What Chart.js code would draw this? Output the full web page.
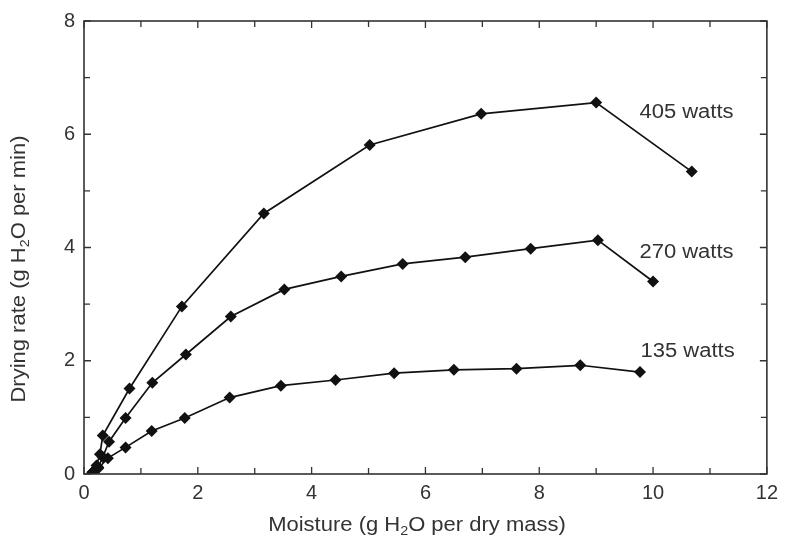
<!DOCTYPE html>
<html>
<head>
<meta charset="utf-8">
<script src="https://cdn.jsdelivr.net/npm/chart.js@4.4.1/dist/chart.umd.min.js"></script>
<style>
  html, body { margin: 0; padding: 0; background: #fff; }
  #wrap { width: 785px; height: 547px; }
</style>
</head>
<body>
<div id="wrap"><canvas id="c" width="785" height="547"></canvas></div>
<script>
// Moisture (g H2O per dry mass) vs drying rate (g H2O per min)
const moisture405 = [0.15, 0.22, 0.28, 0.33, 0.80, 1.72, 3.16, 5.02, 6.98, 9.00, 10.68];
const rate405     = [0.03, 0.15, 0.35, 0.68, 1.51, 2.96, 4.60, 5.81, 6.36, 6.56, 5.34];

const moisture270 = [0.15, 0.25, 0.33, 0.44, 0.73, 1.20, 1.79, 2.58, 3.52, 4.52, 5.60, 6.70, 7.85, 9.03, 10.00];
const rate270     = [0.03, 0.12, 0.30, 0.57, 0.99, 1.61, 2.11, 2.78, 3.26, 3.49, 3.71, 3.83, 3.98, 4.13, 3.40];

const moisture135 = [0.15, 0.25, 0.42, 0.73, 1.19, 1.77, 2.56, 3.46, 4.42, 5.45, 6.50, 7.60, 8.72, 9.77];
const rate135     = [0.03, 0.10, 0.28, 0.47, 0.76, 0.99, 1.35, 1.56, 1.66, 1.78, 1.84, 1.86, 1.92, 1.80];

const seriesLabels = ['405 watts', '270 watts', '135 watts'];
// where each series name sits, in data units
const labelX = [9.76, 9.76, 9.78];
const labelY = [6.38, 3.92, 2.17];

const xTicks = [0, 2, 4, 6, 8, 10, 12];
const yTicks = [0, 2, 4, 6, 8];

const pts = (xs, ys) => xs.map((x, i) => ({ x, y: ys[i] }));

const FONT = '"Liberation Sans", Arial, sans-serif';
const FS = 20;
const STRETCH = 1.1;   // labels are set slightly wide
const INK = '#111';
const AXIS = '#333';
const TEXT = '#333';

function lineSet(label, data) {
  return {
    label, data, showLine: true,
    borderColor: INK, backgroundColor: INK,
    borderWidth: 1.7,
    pointStyle: 'rectRot', pointRadius: 6, pointHoverRadius: 6,
    pointBorderWidth: 0,
    tension: 0, fill: false
  };
}

// frame with inward ticks on all four sides, plus axis titles and series names
const framePlugin = {
  id: 'frame',
  afterDatasetsDraw(chart) {
    const { ctx, chartArea: a, scales: { x, y } } = chart;
    ctx.save();
    ctx.strokeStyle = AXIS;
    ctx.lineWidth = 1.6;
    ctx.strokeRect(a.left, a.top, a.right - a.left, a.bottom - a.top);
    ctx.lineWidth = 1.3;
    ctx.beginPath();
    for (let v = 0; v <= 12; v++) {
      const px = x.getPixelForValue(v);
      const len = v % 2 === 0 ? 7 : 6;
      ctx.moveTo(px, a.bottom); ctx.lineTo(px, a.bottom - len);
      ctx.moveTo(px, a.top); ctx.lineTo(px, a.top + len);
    }
    for (let v = 0; v <= 8; v++) {
      const py = y.getPixelForValue(v);
      const len = v % 2 === 0 ? 7 : 6;
      ctx.moveTo(a.left, py); ctx.lineTo(a.left + len, py);
      ctx.moveTo(a.right, py); ctx.lineTo(a.right - len, py);
    }
    ctx.stroke();

    ctx.fillStyle = TEXT;
    ctx.textBaseline = 'middle';
    ctx.textAlign = 'left';

    // series names
    ctx.font = FS + 'px ' + FONT;
    seriesLabels.forEach((t, i) => {
      ctx.save();
      ctx.translate(x.getPixelForValue(labelX[i]), y.getPixelForValue(labelY[i]));
      ctx.scale(STRETCH, 1);
      ctx.fillText(t, 0, 0);
      ctx.restore();
    });

    // title with a subscript 2, centred on the origin of the current transform
    function subTitle(parts) {
      const big = FS + 'px ' + FONT, small = Math.round(FS * 0.65) + 'px ' + FONT;
      ctx.font = big; const w0 = ctx.measureText(parts[0]).width;
      const w2 = ctx.measureText(parts[2]).width;
      ctx.font = small; const w1 = ctx.measureText(parts[1]).width;
      let sx = -(w0 + w1 + w2) / 2;
      ctx.font = big; ctx.fillText(parts[0], sx, 0); sx += w0;
      ctx.font = small; ctx.fillText(parts[1], sx, 6); sx += w1;
      ctx.font = big; ctx.fillText(parts[2], sx, 0);
    }
    ctx.save();
    ctx.translate(417, 525);
    ctx.scale(STRETCH, 1);
    subTitle(['Moisture (g H', '2', 'O per dry mass)']);
    ctx.restore();

    ctx.save();
    ctx.translate(19, 269);
    ctx.rotate(-Math.PI / 2);
    ctx.scale(STRETCH, 1);
    subTitle(['Drying rate (g H', '2', 'O per min)']);
    ctx.restore();

    ctx.restore();
  }
};

new Chart(document.getElementById('c'), {
  type: 'scatter',
  data: {
    datasets: [
      lineSet(seriesLabels[0], pts(moisture405, rate405)),
      lineSet(seriesLabels[1], pts(moisture270, rate270)),
      lineSet(seriesLabels[2], pts(moisture135, rate135))
    ]
  },
  options: {
    responsive: false,
    animation: false,
    devicePixelRatio: 1,
    layout: { padding: { top: 20, right: 16, left: 0, bottom: 0 } },
    plugins: { legend: { display: false }, tooltip: { enabled: false } },
    scales: {
      x: {
        type: 'linear', min: 0, max: 12,
        afterBuildTicks(s) { s.ticks = xTicks.map(v => ({ value: v })); },
        afterFit(s) { s.height = 73; },
        grid: { display: false, drawTicks: false },
        border: { display: false },
        ticks: { color: TEXT, font: { family: FONT, size: FS }, padding: 7, maxRotation: 0 }
      },
      y: {
        type: 'linear', min: 0, max: 8,
        afterBuildTicks(s) { s.ticks = yTicks.map(v => ({ value: v })); },
        afterFit(s) { s.width = 84; },
        grid: { display: false, drawTicks: false },
        border: { display: false },
        ticks: { color: TEXT, font: { family: FONT, size: FS }, padding: 9 }
      }
    }
  },
  plugins: [framePlugin]
});
</script>
</body>
</html>
